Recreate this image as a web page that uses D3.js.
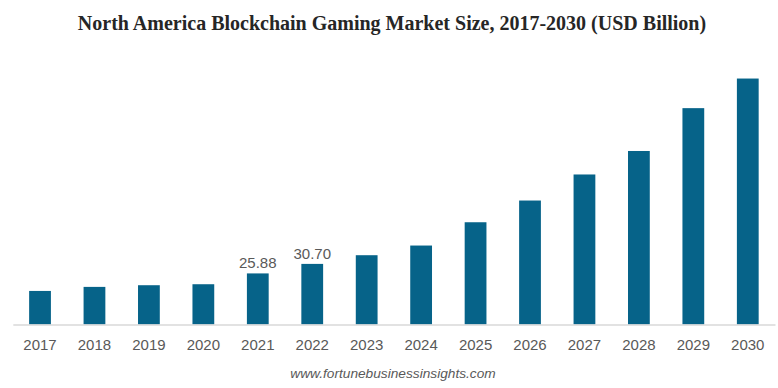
<!DOCTYPE html>
<html>
<head>
<meta charset="utf-8">
<script src="https://cdn.jsdelivr.net/npm/d3@7"></script>
<style>
  body { margin: 0; background: #fff; }
</style>
</head>
<body>
<svg width="778" height="388"></svg>
<script>
var years = ["2017", "2018", "2019", "2020", "2021", "2022", "2023", "2024", "2025", "2026", "2027", "2028", "2029", "2030"];
var marketSize = [17.0, 19.05, 19.9, 20.4, 25.88, 30.70, 35.1, 40.0, 51.8, 62.8, 76.0, 87.9, 109.6, 124.6];
var labelledYears = ["2021", "2022"];

var svg = d3.select("svg"),
    width = +svg.attr("width"),
    height = +svg.attr("height");

var data = years.map(function(y, i) { return { year: y, value: marketSize[i] }; });

var x = d3.scaleBand()
    .domain(years)
    .range([12.8, 775])
    .paddingInner(0.6)
    .paddingOuter(0.3);

var y = d3.scaleLinear()
    .domain([0, 125])
    .range([324.5, 324.5 - 125 * 1.974]);

svg.append("text")
    .attr("x", 392)
    .attr("y", 30)
    .attr("text-anchor", "middle")
    .style("font-family", "'Liberation Serif', 'Times New Roman', serif")
    .style("font-weight", "bold")
    .style("font-size", "20px")
    .style("fill", "#262626")
    .text("North America Blockchain Gaming Market Size, 2017-2030 (USD Billion)");

svg.append("g")
    .selectAll("rect")
    .data(data)
    .enter().append("rect")
    .attr("x", function(d) { return x(d.year); })
    .attr("y", function(d) { return y(d.value); })
    .attr("width", x.bandwidth())
    .attr("height", function(d) { return y(0) - y(d.value); })
    .style("fill", "#066389");

var xAxis = svg.append("g")
    .attr("transform", "translate(0," + y(0) + ")")
    .call(d3.axisBottom(x).tickSize(0).tickPadding(15));

xAxis.select(".domain").attr("stroke", "#d9d9d9").attr("stroke-width", 1.3);
xAxis.selectAll("text")
    .style("font-family", "'Liberation Sans', Arial, sans-serif")
    .style("font-size", "15px")
    .style("fill", "#595959");

svg.append("g")
    .selectAll("text")
    .data(data.filter(function(d) { return labelledYears.indexOf(d.year) >= 0; }))
    .enter().append("text")
    .attr("x", function(d) { return x(d.year) + x.bandwidth() / 2; })
    .attr("y", function(d) { return y(d.value) - 5; })
    .attr("text-anchor", "middle")
    .style("font-family", "'Liberation Sans', Arial, sans-serif")
    .style("font-size", "15px")
    .style("fill", "#595959")
    .text(function(d) { return d.value.toFixed(2); });

svg.append("text")
    .attr("x", 393)
    .attr("y", 377.5)
    .attr("text-anchor", "middle")
    .style("font-family", "'Liberation Sans', Arial, sans-serif")
    .style("font-style", "italic")
    .style("font-size", "13.7px")
    .style("fill", "#595959")
    .text("www.fortunebusinessinsights.com");
</script>
</body>
</html>
